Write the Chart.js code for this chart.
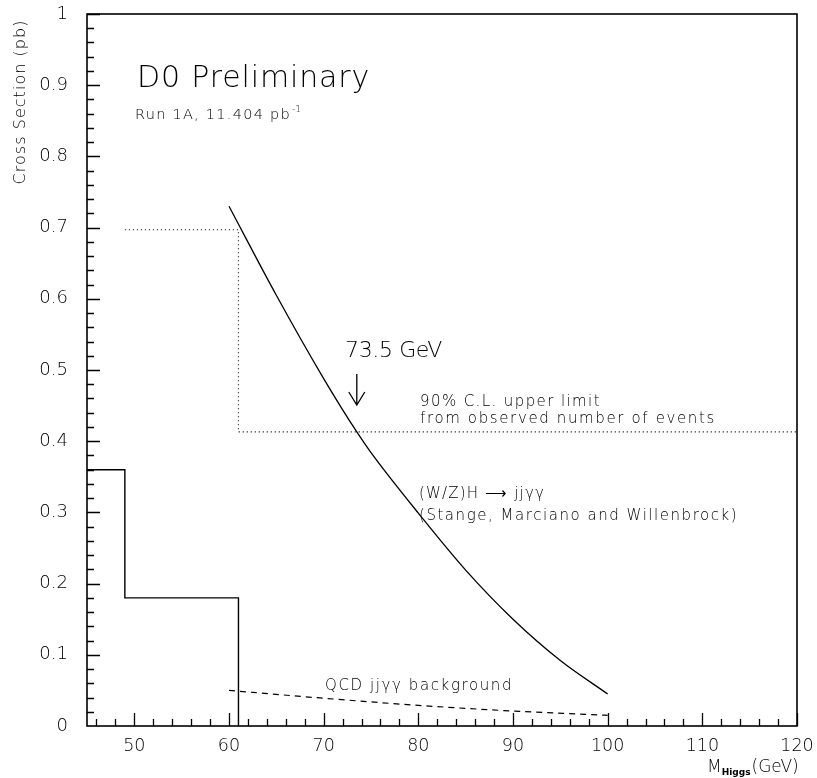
<!DOCTYPE html>
<html>
<head>
<meta charset="utf-8">
<script src="https://cdn.jsdelivr.net/npm/chart.js@4/dist/chart.umd.min.js"></script>
<style>
  html, body { margin: 0; padding: 0; background: #fff; }
  #c { display: block; }
</style>
</head>
<body>
<canvas id="c" width="817" height="778"></canvas>
<script>
// (W/Z)H -> jj gamma gamma cross section versus Higgs mass
const signalMass = [60, 65, 70, 73.5, 75, 80, 85, 90, 95, 100];
const signalXsec = [0.730, 0.605, 0.488, 0.413, 0.384, 0.299, 0.219, 0.150, 0.092, 0.045];

// QCD jj gamma gamma background
const bkgMass = [60, 70, 80, 90, 100];
const bkgXsec = [0.050, 0.039, 0.029, 0.021, 0.015];

// 90% C.L. upper limit from observed events (bin edges, value from each edge on)
const limitEdges  = [49, 61, 120];
const limitValues = [0.697, 0.413, 0.413];

// solid step histogram
const stepEdges  = [45, 49, 61];
const stepValues = [0.36, 0.18, 0];

// axis tick labels
const xTickValues = [50, 60, 70, 80, 90, 100, 110, 120];
const yTickValues = [0, 0.1, 0.2, 0.3, 0.4, 0.5, 0.6, 0.7, 0.8, 0.9, 1];

const FONT = '"DejaVu Sans", "Liberation Sans", sans-serif';
const WEIGHT = '200';

// bin edges + values -> points for a horizontal-then-vertical step line
function stepPoints(edges, values) {
  return edges.map((x, i) => ({ x, y: values[i] }));
}
const toPoints = (xs, ys) => xs.map((x, i) => ({ x, y: ys[i] }));

function drawText(ctx, s, x, y, size, width, align) {
  ctx.font = `${WEIGHT} ${size}px ${FONT}`;
  ctx.letterSpacing = '0px';
  if (width) {
    const w = ctx.measureText(s).width;
    const ls = (width - w) / s.length;
    ctx.letterSpacing = ls.toFixed(2) + 'px';
  }
  ctx.textAlign = align || 'left';
  ctx.fillText(s, x, y);
  const used = ctx.measureText(s).width;
  ctx.letterSpacing = '0px';
  return used;
}

function noScalePadding(s) {
  s.paddingTop = 0;
  s.paddingBottom = 0;
  s.paddingLeft = 0;
  s.paddingRight = 0;
}

const framePlugin = {
  id: 'frameAndLabels',
  afterDraw(chart) {
    const { ctx, chartArea: a, scales: { x, y } } = chart;
    ctx.save();
    ctx.strokeStyle = '#000';
    ctx.fillStyle = '#000';

    // frame
    ctx.lineWidth = 1.6;
    ctx.strokeRect(a.left, a.top, a.right - a.left, a.bottom - a.top);

    // inward ticks
    ctx.lineWidth = 1.3;
    ctx.beginPath();
    for (let v = 46; v <= 120.001; v += 2) {
      const px = Math.round(x.getPixelForValue(v)) + 0.5;
      const major = Math.abs(v % 10) < 1e-6;
      ctx.moveTo(px, a.bottom);
      ctx.lineTo(px, a.bottom - (major ? 13 : 7));
    }
    for (let k = 1; k <= 50; k++) {
      const v = k * 0.02;
      const py = Math.round(y.getPixelForValue(v)) + 0.5;
      const major = k % 5 === 0;
      ctx.moveTo(a.left, py);
      ctx.lineTo(a.left + (major ? 13 : 7), py);
    }
    ctx.stroke();

    ctx.textBaseline = 'alphabetic';

    // y-axis title
    ctx.save();
    ctx.translate(25, 102);
    ctx.rotate(-Math.PI / 2);
    drawText(ctx, 'Cross Section (pb)', 0, 0, 16, 165, 'center');
    ctx.restore();

    // x-axis title with subscript
    let cx = 707;
    cx += drawText(ctx, 'M', cx, 772, 17, 0);
    ctx.font = `bold 9px ${FONT}`;
    ctx.textAlign = 'left';
    ctx.fillText('Higgs', cx, 775);
    cx += ctx.measureText('Higgs').width + 1;
    drawText(ctx, '(GeV)', cx, 772, 17, 0);

    // header
    drawText(ctx, 'D0 Preliminary', 137, 87, 30, 233);
    const w = drawText(ctx, 'Run 1A, 11.404 pb', 135, 119, 14.5, 156);
    drawText(ctx, '-1', 135 + w + 1, 112, 9, 0);

    // mass limit label and arrow
    const mx = x.getPixelForValue(73.5);
    drawText(ctx, '73.5 GeV', 345, 357, 22, 97);
    ctx.lineWidth = 1.3;
    ctx.beginPath();
    ctx.moveTo(mx, 374);
    ctx.lineTo(mx, 405);
    ctx.moveTo(mx - 8, 392);
    ctx.lineTo(mx, 405);
    ctx.lineTo(mx + 8, 392);
    ctx.stroke();

    // limit description
    drawText(ctx, '90% C.L. upper limit', 420, 406, 15, 181);
    drawText(ctx, 'from observed number of events', 420, 423, 15, 296);

    // signal description
    drawText(ctx, '(W/Z)H \u27F6 jj\u03B3\u03B3', 419, 498, 15, 126);
    drawText(ctx, '(Stange, Marciano and Willenbrock)', 419, 520, 15, 319);

    // background description
    drawText(ctx, 'QCD jj\u03B3\u03B3 background', 325, 690, 15, 188);

    ctx.restore();
  }
};

new Chart(document.getElementById('c'), {
  type: 'line',
  data: {
    datasets: [
      {
        data: stepPoints(stepEdges, stepValues),
        stepped: 'before',
        borderColor: '#000',
        borderWidth: 1.4,
        pointRadius: 0,
        fill: false
      },
      {
        data: stepPoints(limitEdges, limitValues),
        stepped: 'before',
        borderColor: '#222',
        borderWidth: 1.2,
        borderDash: [1.2, 2.8],
        pointRadius: 0,
        fill: false
      },
      {
        data: toPoints(signalMass, signalXsec),
        borderColor: '#000',
        borderWidth: 1.3,
        cubicInterpolationMode: 'monotone',
        pointRadius: 0,
        fill: false
      },
      {
        data: toPoints(bkgMass, bkgXsec),
        borderColor: '#000',
        borderWidth: 1.2,
        borderDash: [6, 5],
        cubicInterpolationMode: 'monotone',
        pointRadius: 0,
        fill: false
      }
    ]
  },
  options: {
    responsive: false,
    animation: false,
    devicePixelRatio: 1,
    layout: { padding: { left: 0, top: 14, right: 20, bottom: 0 } },
    plugins: { legend: { display: false }, tooltip: { enabled: false } },
    scales: {
      x: {
        type: 'linear',
        min: 45,
        max: 120,
        afterBuildTicks: s => { s.ticks = xTickValues.map(v => ({ value: v })); },
        afterFit: s => { s.height = 52; noScalePadding(s); },
        grid: { display: false, drawTicks: false },
        border: { display: false },
        ticks: {
          font: { family: FONT, size: 17.5, weight: WEIGHT },
          color: '#000',
          padding: 10,
          maxRotation: 0,
          autoSkip: false
        }
      },
      y: {
        type: 'linear',
        min: 0,
        max: 1,
        afterBuildTicks: s => { s.ticks = yTickValues.map(v => ({ value: v })); },
        afterFit: s => { s.width = 87; noScalePadding(s); },
        grid: { display: false, drawTicks: false },
        border: { display: false },
        ticks: {
          font: { family: FONT, size: 18, weight: WEIGHT },
          color: '#000',
          padding: 19,
          autoSkip: false,
          callback: v => String(v)
        }
      }
    }
  },
  plugins: [framePlugin]
});
</script>
</body>
</html>
